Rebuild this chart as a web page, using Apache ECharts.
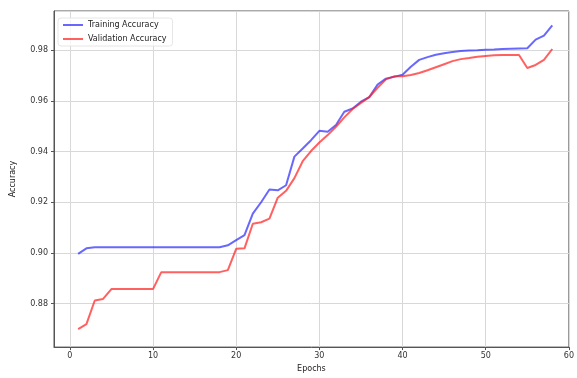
<!DOCTYPE html>
<html>
<head>
<meta charset="utf-8">
<script src="https://cdn.jsdelivr.net/npm/echarts@6/dist/echarts.min.js"></script>
<style>
  html, body { margin: 0; padding: 0; background: #fff; }
  #main { width: 577px; height: 378px; }
</style>
</head>
<body>
<div id="main"></div>
<script>
// epochs 1..58
var epochs = [];
for (var i = 1; i <= 58; i++) epochs.push(i);

// training accuracy (blue)
var train_acc = [
    0.8996, 0.9018, 0.9022, 0.9022, 0.9022, 0.9022, 0.9022, 0.9022, 0.9022, 0.9022,
    0.9022, 0.9022, 0.9022, 0.9022, 0.9022, 0.9022, 0.9022, 0.9022, 0.9030, 0.9050,
    0.9070, 0.9155, 0.9200, 0.9250, 0.9247, 0.9267, 0.9380, 0.9412, 0.9445, 0.9482,
    0.9478, 0.9505, 0.9557, 0.9570, 0.9597, 0.9615, 0.9665, 0.9688, 0.9695, 0.9703,
    0.9735, 0.9762, 0.9773, 0.9782, 0.9788, 0.9793, 0.9797, 0.9799, 0.9800, 0.9802,
    0.9803, 0.9805, 0.9806, 0.9807, 0.9808, 0.9842, 0.9858, 0.9898
];

// validation accuracy (red)
var val_acc = [
    0.8699, 0.8719, 0.8812, 0.8818, 0.8857, 0.8857, 0.8857, 0.8857, 0.8857, 0.8857,
    0.8924, 0.8924, 0.8924, 0.8924, 0.8924, 0.8924, 0.8924, 0.8924, 0.8932, 0.9016,
    0.9018, 0.9115, 0.9121, 0.9135, 0.9218, 0.9245, 0.9295, 0.9362, 0.9402, 0.9436,
    0.9465, 0.9498, 0.9535, 0.9568, 0.9592, 0.9615, 0.9652, 0.9685, 0.9697, 0.9697,
    0.9702, 0.9710, 0.9721, 0.9733, 0.9745, 0.9757, 0.9765, 0.9769, 0.9774, 0.9777,
    0.9780, 0.9781, 0.9781, 0.9781, 0.9730, 0.9742, 0.9762, 0.9805
];

function pairs(xs, ys) {
    var out = [];
    for (var k = 0; k < xs.length; k++) out.push([xs[k], ys[k]]);
    return out;
}

var chart = echarts.init(document.getElementById('main'));
var font = 'DejaVu Sans';
var option = {
    animation: false,
    grid: {
        left: 54,
        right: 6,
        top: 11,
        bottom: 30,
        show: true,
        borderColor: '#555',
        borderWidth: 1
    },
    legend: {
        orient: 'vertical',
        left: 58,
        top: 18,
        itemGap: 6,
        itemWidth: 20,
        itemHeight: 2,
        icon: 'rect',
        padding: [3, 6, 3, 5],
        borderColor: '#e6e6e6',
        borderWidth: 1,
        borderRadius: 3,
        backgroundColor: 'rgba(255,255,255,0.8)',
        textStyle: { fontFamily: font, fontSize: 8, color: '#222' },
        data: ['Training Accuracy', 'Validation Accuracy']
    },
    xAxis: {
        type: 'value',
        min: -1.9,
        max: 60,
        splitNumber: 6,
        name: 'Epochs',
        nameLocation: 'middle',
        nameGap: 17,
        nameTextStyle: { fontFamily: font, fontSize: 8, color: '#222' },
        axisLine: { onZero: false, lineStyle: { color: '#555' } },
        axisTick: { length: 3, lineStyle: { color: '#555' } },
        axisLabel: {
            fontFamily: font, fontSize: 8, color: '#333', margin: 5,
            showMinLabel: false,
            formatter: function (v) { return (v % 10 === 0) ? String(v) : ''; }
        },
        splitLine: { show: true, lineStyle: { color: '#d8d8d8', width: 1 } }
    },
    yAxis: {
        type: 'value',
        min: 0.8628,
        max: 0.9955,
        splitNumber: 7,
        name: 'Accuracy',
        nameLocation: 'middle',
        nameGap: 37,
        nameTextStyle: { fontFamily: font, fontSize: 8, color: '#222' },
        axisLine: { onZero: false, lineStyle: { color: '#555' } },
        axisTick: { length: 3, lineStyle: { color: '#555' } },
        axisLabel: {
            fontFamily: font, fontSize: 8, color: '#333', margin: 6,
            showMinLabel: false, showMaxLabel: false,
            formatter: function (v) { return v.toFixed(2); }
        },
        splitLine: { show: true, lineStyle: { color: '#d8d8d8', width: 1 } }
    },
    series: [
        {
            name: 'Training Accuracy',
            type: 'line',
            showSymbol: false,
            data: pairs(epochs, train_acc),
            lineStyle: { color: 'rgba(40,40,255,0.7)', width: 2 },
            itemStyle: { color: 'rgba(40,40,255,0.7)' }
        },
        {
            name: 'Validation Accuracy',
            type: 'line',
            showSymbol: false,
            data: pairs(epochs, val_acc),
            lineStyle: { color: 'rgba(255,30,30,0.7)', width: 2 },
            itemStyle: { color: 'rgba(255,30,30,0.7)' }
        }
    ]
};
chart.setOption(option);
</script>
</body>
</html>
